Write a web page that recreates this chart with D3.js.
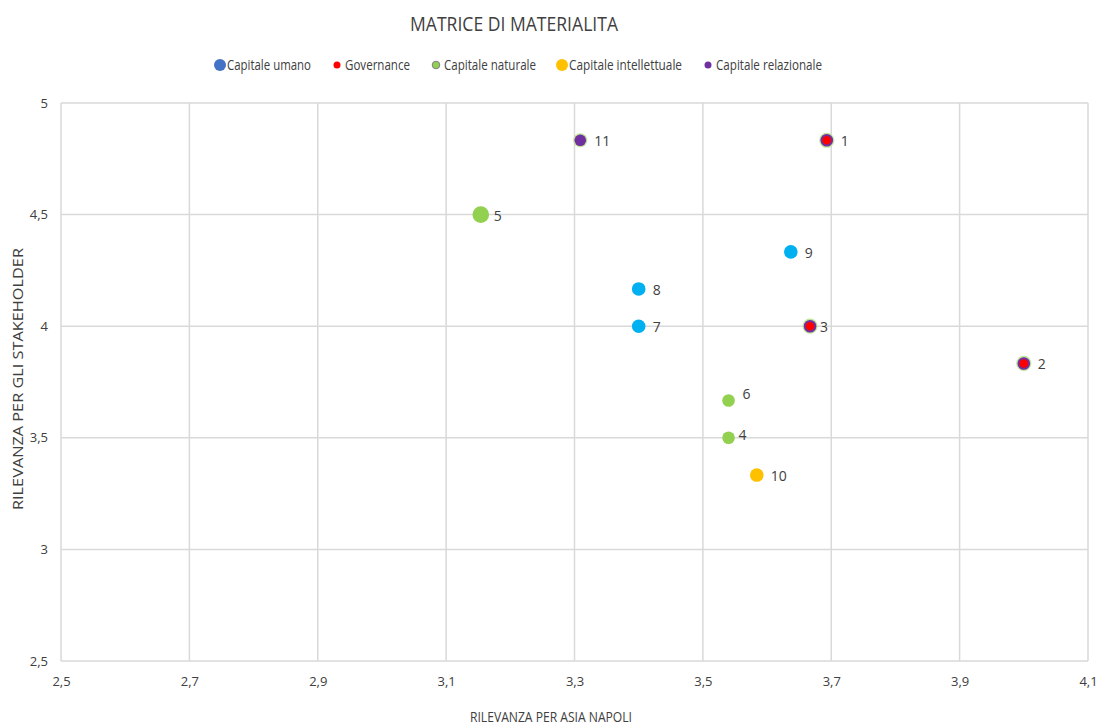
<!DOCTYPE html>
<html>
<head>
<meta charset="utf-8">
<script src="https://cdn.jsdelivr.net/npm/d3@7"></script>
<style>
  html, body { margin: 0; padding: 0; background: #fff; }
  text { font-family: "Open Sans", "Noto Sans", sans-serif; fill: #404040; }
</style>
</head>
<body>
<svg id="chart" width="1098" height="726"></svg>
<script>
// Materiality matrix: topics by category
const categories = ["Capitale umano", "Governance", "Capitale naturale", "Capitale intellettuale", "Capitale relazionale"];
const ids        = ["1", "2", "3", "4", "5", "6", "7", "8", "9", "10", "11"];
const xValues    = [3.693, 4.0, 3.667, 3.54, 3.154, 3.54, 3.40, 3.40, 3.637, 3.584, 3.309];
const yValues    = [4.833, 3.833, 4.0, 3.5, 4.5, 3.667, 4.0, 4.167, 4.333, 3.333, 4.833];
const styles     = ["gov", "gov", "gov", "nat", "nat5", "nat", "blue", "blue", "blue", "int", "rel"];
const xTicks     = [2.5, 2.7, 2.9, 3.1, 3.3, 3.5, 3.7, 3.9, 4.1];
const yTicks     = [2.5, 3, 3.5, 4, 4.5, 5];

const fmt = v => String(v).replace(".", ",");

const svg = d3.select("#chart");

const x = d3.scaleLinear().domain([2.5, 4.1]).range([61, 1088]);
const y = d3.scaleLinear().domain([2.5, 5]).range([661, 103]);

// Grid
svg.append("g").selectAll("line").data(xTicks).join("line")
  .attr("x1", d => x(d)).attr("x2", d => x(d))
  .attr("y1", y(5)).attr("y2", y(2.5))
  .attr("stroke", "#d9d9d9").attr("stroke-width", 1.5);
svg.append("g").selectAll("line").data(yTicks).join("line")
  .attr("x1", x(2.5)).attr("x2", x(4.1))
  .attr("y1", d => y(d)).attr("y2", d => y(d))
  .attr("stroke", "#d9d9d9").attr("stroke-width", 1.5);

// Axes
const xAxis = d3.axisBottom(x).tickValues(xTicks).tickFormat(fmt).tickSize(0).tickPadding(16);
const gx = svg.append("g").attr("transform", `translate(0,${y(2.5)})`).call(xAxis);
gx.select(".domain").remove();
gx.selectAll("text").style("font-size", "13px").style("font-family", null).attr("fill", "#404040");

const yAxis = d3.axisLeft(y).tickValues(yTicks).tickFormat(fmt).tickSize(0).tickPadding(13);
const gy = svg.append("g").attr("transform", `translate(${x(2.5)},0)`).call(yAxis);
gy.select(".domain").remove();
gy.selectAll("text").style("font-size", "13px").attr("fill", "#404040");
svg.selectAll(".tick text").attr("font-family", null);

// Titles (narrow lettering)
svg.append("text").attr("x", 514).attr("y", 31).attr("text-anchor", "middle")
  .attr("textLength", 208).attr("lengthAdjust", "spacingAndGlyphs")
  .style("font-size", "20px").attr("fill", "#262626").text("MATRICE DI MATERIALITA");
svg.append("text").attr("x", 551).attr("y", 722).attr("text-anchor", "middle")
  .attr("textLength", 162).attr("lengthAdjust", "spacingAndGlyphs")
  .style("font-size", "14px").text("RILEVANZA PER ASIA NAPOLI");
svg.append("text").attr("transform", "translate(23,379) rotate(-90)").attr("text-anchor", "middle")
  .attr("textLength", 262).attr("lengthAdjust", "spacingAndGlyphs")
  .style("font-size", "15px").text("RILEVANZA PER GLI  STAKEHOLDER");

// Marker drawing
function marker(g, style) {
  if (style === "gov") {
    g.append("circle").attr("r", 7.6).attr("fill", "#bfe59a");
    g.append("circle").attr("r", 6.3).attr("fill", "#7030A0");
    g.append("circle").attr("r", 4.3).attr("fill", "#FF0000");
  } else if (style === "rel") {
    g.append("circle").attr("r", 7).attr("fill", "#bfe59a");
    g.append("circle").attr("r", 5.8).attr("fill", "#7030A0");
  } else if (style === "nat") {
    g.append("circle").attr("r", 6.3).attr("fill", "#92D050");
  } else if (style === "nat5") {
    g.append("circle").attr("r", 8.3).attr("fill", "#92D050");
  } else if (style === "blue") {
    g.append("circle").attr("r", 6.8).attr("fill", "#00B0F0");
  } else if (style === "int") {
    g.append("circle").attr("r", 6.8).attr("fill", "#FFC000");
  }
}

const pts = svg.append("g").selectAll("g")
  .data(ids.map((id, i) => ({ id, x: xValues[i], y: yValues[i], s: styles[i] })))
  .join("g").attr("transform", d => `translate(${x(d.x)},${y(d.y)})`);
pts.each(function(d) { marker(d3.select(this), d.s); });
pts.append("text")
  .attr("x", d => d.s === "nat5" ? 13 : (d.id === "3" || d.id === "4" ? 10 : 14))
  .attr("y", d => d.id === "6" ? -6 : (d.id === "4" ? -3 : 1))
  .attr("dy", "0.35em").style("font-size", "14px").attr("fill", "#262626").text(d => d.id);

// Legend
const legendItems = [
  { label: categories[0], x: 220, r: 6,   fill: "#4472C4", w: 84 },
  { label: categories[1], x: 337, r: 3.5, fill: "#FF0000", w: 65 },
  { label: categories[2], x: 436, r: 3.8, fill: "#92D050", stroke: "#7f6f8f", w: 92 },
  { label: categories[3], x: 562, r: 6,   fill: "#FFC000", w: 113 },
  { label: categories[4], x: 708, r: 3.5, fill: "#7030A0", w: 106 }
];
const lg = svg.append("g").selectAll("g").data(legendItems).join("g")
  .attr("transform", d => `translate(${d.x},65)`);
lg.append("circle").attr("r", d => d.r).attr("fill", d => d.fill)
  .attr("stroke", d => d.stroke || "none").attr("stroke-width", 0.9);
lg.append("text").attr("x", d => d.r > 5 ? 7 : 8).attr("dy", "0.35em")
  .attr("textLength", d => d.w).attr("lengthAdjust", "spacingAndGlyphs")
  .style("font-size", "14px").attr("fill", "#404040").text(d => d.label);
</script>
</body>
</html>
